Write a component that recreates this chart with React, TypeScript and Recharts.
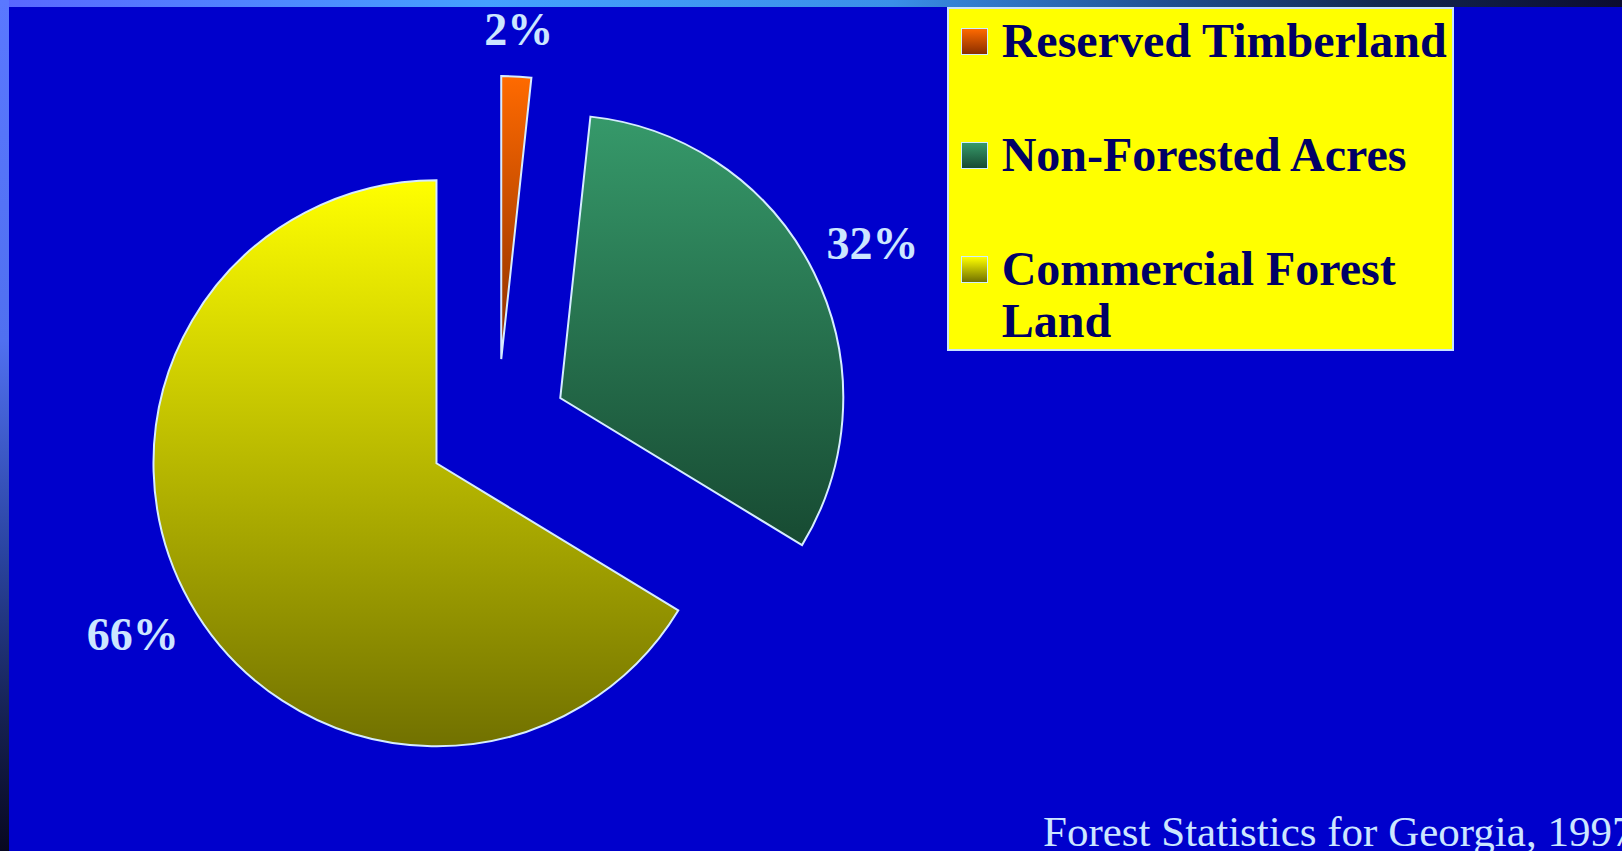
import React from 'react';
import { PieChart, Pie, Cell, Legend } from 'recharts';

// ---- data ----
const categories = ['Reserved Timberland', 'Non-Forested Acres', 'Commercial Forest Land'];
const shares = [1.7, 32.0, 66.3];
const sourceNote = 'Forest Statistics for Georgia, 1997';

const data = categories.map((name, i) => ({ name, value: shares[i] }));

// ---- styling ----
const W = 1622;
const H = 851;
const BG = '#0000CC';
const SERIF = '"Liberation Serif", "Times New Roman", Times, serif';
const LABEL_COLOR = '#CCE6FF';
const STROKE = '#D6ECFF';
const GRADS = [
  { id: 'g-res', top: '#FF6A00', bottom: '#8A2E00' },
  { id: 'g-non', top: '#36996A', bottom: '#174A32' },
  { id: 'g-com', top: '#FFFF00', bottom: '#717100' },
];
const START = 90;
const END = -270;
const EXPLODE = 70;
const RAD = Math.PI / 180;

const total = shares.reduce((a, b) => a + b, 0);
const mids = (() => {
  let acc = 0;
  return shares.map((v) => {
    const span = (v / total) * (END - START);
    const m = START + acc + span / 2;
    acc += span;
    return m;
  });
})();

const renderLabel = (p: any) => {
  const { cx, cy, midAngle, outerRadius, percent, index } = p;
  const text = `${Math.round(percent * 100)}%`;
  const fs = 46;
  const digits = text.length - 1;
  const w = fs * (0.5 * digits + 1.0);
  const hh = fs * 0.338;
  const c = Math.cos(midAngle * RAD);
  const s = -Math.sin(midAngle * RAD);
  const ext = Math.abs(c) * (w / 2) * 0.8 + Math.abs(s) * hh * 1.5;
  const r = outerRadius + EXPLODE + 22 + ext;
  const x = cx + r * c;
  const y = cy + r * s;
  return (
    <text
      key={`lbl-${index}`}
      x={x}
      y={y + hh}
      textAnchor="middle"
      fill={LABEL_COLOR}
      fontFamily={SERIF}
      fontWeight="bold"
      fontSize={fs}
    >
      {text}
    </text>
  );
};

const LegendBox = (props: any) => {
  const payload = [...(props.payload || [])].sort(
    (a: any, b: any) => categories.indexOf(a.value) - categories.indexOf(b.value)
  );
  return (
    <div
      style={{
        width: 507,
        height: 344,
        boxSizing: 'border-box',
        background: '#FFFF00',
        border: '2px solid #C8E4FF',
        paddingTop: 6,
        fontFamily: SERIF,
        fontWeight: 'bold',
        fontSize: 48,
        lineHeight: '52px',
        color: '#000066',
      }}
    >
      {payload.map((e: any, i: number) => {
        const ci = categories.indexOf(e.value);
        const g = GRADS[(ci >= 0 ? ci : i) % GRADS.length];
        return (
          <div key={i} style={{ display: 'flex', alignItems: 'flex-start', marginBottom: 62 }}>
            <div
              style={{
                flex: 'none',
                width: 27,
                height: 27,
                marginLeft: 12,
                marginTop: 13.5,
                boxSizing: 'border-box',
                border: '1.5px solid #CFEFFF',
                background: `linear-gradient(to bottom, ${g.top}, ${g.bottom})`,
              }}
            />
            <div style={{ marginLeft: 14, width: 448 }}>{e.value}</div>
          </div>
        );
      })}
    </div>
  );
};

export default function App() {
  return (
    <div
      style={{
        position: 'absolute',
        left: 0,
        top: 0,
        width: W,
        height: H,
        overflow: 'hidden',
        background: BG,
      }}
    >
      <div style={{ position: 'absolute', left: 0, top: 0 }}>
        <PieChart width={W} height={H} margin={{ top: 0, right: 0, bottom: 0, left: 0 }}>
          <defs>
            {GRADS.map((g) => (
              <linearGradient key={g.id} id={g.id} x1="0" y1="0" x2="0" y2="1">
                <stop offset="0%" stopColor={g.top} />
                <stop offset="100%" stopColor={g.bottom} />
              </linearGradient>
            ))}
          </defs>
          <Pie
            data={data}
            dataKey="value"
            nameKey="name"
            cx={497.5}
            cy={429}
            outerRadius={283}
            startAngle={START}
            endAngle={END}
            stroke={STROKE}
            strokeWidth={2}
            label={renderLabel}
            labelLine={false}
            isAnimationActive={false}
          >
            {data.map((d, i) => (
              <Cell
                key={d.name}
                fill={`url(#${GRADS[i].id})`}
                transform={`translate(${EXPLODE * Math.cos(mids[i] * RAD)}, ${-EXPLODE * Math.sin(mids[i] * RAD)})`}
              />
            ))}
          </Pie>
          <Legend
            layout="vertical"
            align="right"
            verticalAlign="top"
            width={507}
            height={344}
            content={LegendBox}
            wrapperStyle={{ left: 946.7, top: 6.7, right: 'auto' }}
          />
        </PieChart>
      </div>
      <div
        style={{
          position: 'absolute',
          left: 1043,
          top: 810,
          whiteSpace: 'nowrap',
          fontFamily: SERIF,
          fontSize: 43,
          lineHeight: '43px',
          color: LABEL_COLOR,
        }}
      >
        {sourceNote}
      </div>
      <div
        style={{
          position: 'absolute',
          left: 0,
          top: 0,
          width: W,
          height: 7,
          background:
            'linear-gradient(to right, #5A66FF 0%, #44A0FF 30%, #3A8FE8 55%, #1E4E90 72%, #122850 85%, #0C0C30 100%)',
        }}
      />
      <div
        style={{
          position: 'absolute',
          left: 0,
          top: 0,
          width: 9,
          height: H,
          background: 'linear-gradient(to bottom, #5A78FF 0%, #5070F0 40%, #2A44A0 65%, #15204F 85%, #080820 100%)',
        }}
      />
    </div>
  );
}
